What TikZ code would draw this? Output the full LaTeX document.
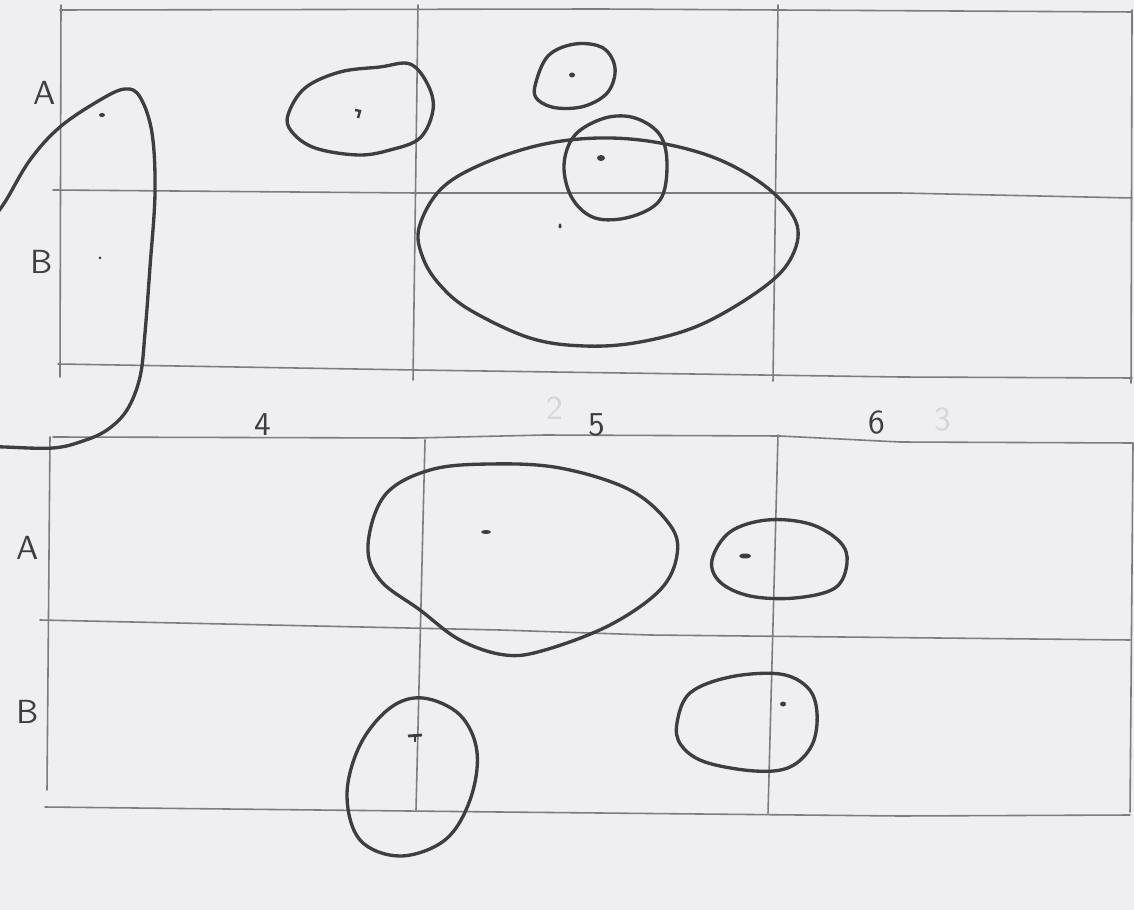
\documentclass[tikz,border=0pt]{standalone}
\usepackage{tikz}
\usetikzlibrary{calc}
\usepackage{xcolor}
\definecolor{paper}{RGB}{239,239,241}
\definecolor{pencil}{RGB}{125,125,128}
\definecolor{penDark}{RGB}{62,62,66}
\definecolor{ghost}{RGB}{214,214,217}
\tikzset{
    gridline/.style={draw=pencil,line width=0.45pt,line cap=round},
    blob/.style={draw=penDark,line width=0.95pt,line cap=round,line join=round},
    centre/.style={fill=penDark,draw=none},
    lbl/.style={font=\sffamily\fontsize{9.5}{11}\selectfont,text=penDark,inner sep=0pt},
    ghostlbl/.style={font=\sffamily\fontsize{9.5}{11}\selectfont,text=ghost,inner sep=0pt}
}

\begin{document}
\begin{tikzpicture}[x=0.01cm,y=-0.01cm]
    \fill[paper] (0,0) rectangle (1134,910);
    \useasboundingbox (0,0) rectangle (1134,910);
    \clip (0,0) rectangle (1134,910);

    % upper grid
    \draw[gridline] (60,10) -- (600,9) -- (1132,12);
    \draw[gridline] (53,190) -- (415,193) -- (900,193) -- (1132,198);
    \draw[gridline] (58,364) -- (415,370) -- (900,377) -- (1132,378);
    \draw[gridline] (61,5) -- (60,377);
    \draw[gridline] (418,5) -- (413,380);
    \draw[gridline] (778,5) -- (773,381);
    \draw[gridline] (1132,10) -- (1131,383);

    % lower grid
    \draw[gridline] (53,437) -- (415,438) -- (545,435) -- (780,436) -- (900,442) -- (1132,443);
    \draw[gridline] (40,620) -- (500,630) -- (650,635) -- (1130,640);
    \draw[gridline] (45,807) -- (500,812) -- (900,816) -- (1130,815);
    \draw[gridline] (50,437) -- (47,790);
    \draw[gridline] (425,440) -- (416,810);
    \draw[gridline] (778,435) -- (768,813);
    \draw[gridline] (1133,443) -- (1130,812);

    % row and column labels
    \node[lbl] (rowAtop) at (45,93) {A};
    \node[lbl] (rowBtop) at (42,262) {B};
    \node[lbl] (colFour) at (263,425) {4};
    \node[lbl] (colFive) at (597,425) {5};
    \node[lbl] (colSix) at (877,423) {6};
    \node[ghostlbl] (ghostTwo) at (555,408) {2};
    \node[ghostlbl] (ghostThree) at (943,420) {3};
    \node[lbl] (rowAbot) at (28,548) {A};
    \node[lbl] (rowBbot) at (28,712) {B};

    % upper blobs
    \draw[blob] plot[smooth,tension=0.6] coordinates {(-10,222) (5,202) (30,160) (60,127) (100,100)
        (125,89) (140,97) (152,133) (155,193) (150,267) (145,333) (140,377) (127,410) (107,430)
        (83,441) (53,448) (5,447) (-10,446)};
    \draw[blob] plot[smooth cycle,tension=0.6] coordinates {(288,115) (305,88) (340,72) (380,67)
        (410,64) (428,85) (433,110) (420,138) (390,150) (358,155) (315,148) (292,132)};
    \draw[blob] plot[smooth cycle,tension=0.6] coordinates {(535,86) (548,56) (575,44) (603,48)
        (615,68) (608,92) (585,106) (557,108) (538,100)};
    \draw[blob] plot[smooth cycle,tension=0.6] coordinates {(564,165) (575,135) (605,118) (635,118)
        (660,135) (667,165) (660,200) (630,217) (595,218) (572,198)};
    \draw[blob] plot[smooth cycle,tension=0.6] coordinates {(419,228) (440,190) (480,165) (540,145)
        (600,138) (660,143) (720,160) (770,190) (797,225) (790,260) (760,290) (700,325) (640,342)
        (585,346) (530,338) (470,310) (440,285) (423,258)};

    % lower blobs
    \draw[blob] plot[smooth cycle,tension=0.6] coordinates {(368,545) (385,495) (430,470) (490,464)
        (560,468) (630,490) (670,525) (677,555) (660,590) (610,625) (545,650) (505,655) (460,640)
        (420,610) (380,580)};
    \draw[blob] plot[smooth cycle,tension=0.6] coordinates {(712,560) (730,532) (767,520) (810,524)
        (840,542) (847,563) (835,588) (795,598) (750,596) (720,582)};
    \draw[blob] plot[smooth cycle,tension=0.6] coordinates {(423,698) (460,715) (477,752) (470,800)
        (445,840) (400,856) (360,840) (347,795) (360,745) (390,708)};
    \draw[blob] plot[smooth cycle,tension=0.6] coordinates {(677,723) (690,693) (730,677) (780,674)
        (808,688) (817,713) (812,745) (790,767) (755,771) (705,762) (681,745)};

    % centre marks
    \fill[centre] (102,115) ellipse (3 and 2);
    \fill[centre] (100,258) ellipse (1.5 and 1.5);
    \draw[penDark,line width=0.7pt] (355,110) -- (360,111) -- (358,118);
    \fill[centre] (572,75) ellipse (3 and 2.5);
    \fill[centre] (601,158) ellipse (4 and 3);
    \fill[centre] (560,226) ellipse (1.5 and 2.5);
    \fill[centre] (486,532) ellipse (5 and 2);
    \fill[centre] (745,556) ellipse (6 and 2.5);
    \fill[centre] (783,704) ellipse (3 and 2.5);
    \draw[penDark,line width=0.8pt] (408,736) -- (422,735);
    \draw[penDark,line width=0.8pt] (415,735) -- (415,742);
\end{tikzpicture}
\end{document}
